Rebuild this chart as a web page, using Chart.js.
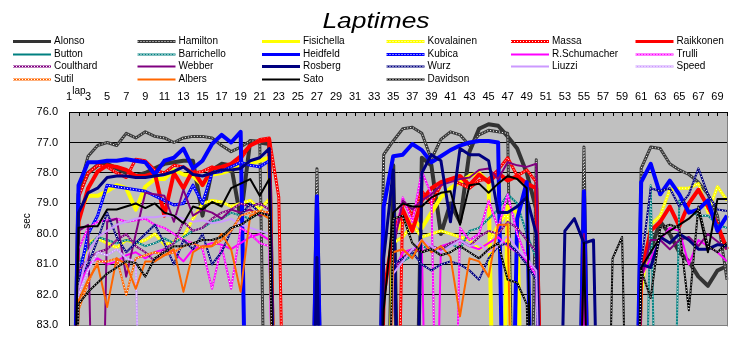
<!DOCTYPE html>
<html><head><meta charset="utf-8">
<script src="https://cdn.jsdelivr.net/npm/chart.js@4.4.1/dist/chart.umd.min.js"></script>
<style>html,body{margin:0;padding:0;background:#fff;overflow:hidden}canvas{display:block}</style>
</head><body>
<canvas id="c" width="752" height="343"></canvas>
<script>
// ---- categories / tick labels ----
const laps = [1,2,3,4,5,6,7,8,9,10,11,12,13,14,15,16,17,18,19,20,21,22,23,24,25,26,27,28,29,30,31,32,33,34,35,36,37,38,39,40,41,42,43,44,45,46,47,48,49,50,51,52,53,54,55,56,57,58,59,60,61,62,63,64,65,66,67,68,69,70];
const tickLaps = [1,3,5,7,9,11,13,15,17,19,21,23,25,27,29,31,33,35,37,39,41,43,45,47,49,51,53,55,57,59,61,63,65,67,69];
const yTicks = [76,77,78,79,80,81,82,83];

// ---- lap times (sec); values above 83 run off the bottom of the chart ----
const alonso = [95,78.7,78.0,77.75,77.7,77.85,78.0,78.1,78.0,77.85,
 77.7,77.65,77.6,77.6,79.4,77.9,77.7,77.75,79.5,76.95,
 77.0,77.05,95,95,95,95,95,95,95,95,
 95,95,95,95,77.75,95,95,77.5,77.75,80.0,
 79.0,79.6,77.3,76.55,76.4,76.45,76.8,77.2,78.0,79.2,
 95,95,95,95,95,95,95,95,95,95,
 81.2,80.5,79.6,80.0,80.6,80.9,81.4,81.7,81.2,81.05];
const hamilton = [95,78.6,77.45,77.1,77.0,77.1,76.7,76.85,76.65,76.8,
 76.85,77.0,76.85,76.8,76.8,76.85,77.1,77.3,77.15,76.95,
 76.95,95,95,95,95,95,77.86,95,95,95,
 95,95,95,77.4,76.95,76.55,76.5,76.7,77.55,76.9,
 76.65,76.75,77.1,76.75,76.6,76.65,76.7,95,95,77.57,
 95,95,95,95,77.15,95,95,95,95,95,
 77.85,77.15,77.2,77.7,77.9,78.05,78.3,78.7,79.4,81.5];
const fisichella = [95,79.3,78.75,78.75,78.6,78.4,78.5,79.2,78.45,78.2,
 78.2,77.9,78.05,78.1,78.4,78.05,78.0,77.9,77.7,77.7,
 77.6,77.5,95,95,95,95,95,95,95,95,
 95,95,95,95,80.0,79.6,79.5,79.8,79.3,78.8,
 78.5,78.3,78.1,78.0,78.3,95,79.1,79.3,95,null,
 null,null,null,null,null,null,null,null,null,null,
 null,null,null,null,null,null,null,null,null,null];
const kovalainen = [95,81.5,80.3,80.15,80.3,80.45,80.2,80.3,80.2,80.0,
 80.35,80.25,80.1,79.5,79.0,78.9,78.95,79.1,79.0,78.9,
 79.2,78.85,95,95,95,95,95,95,95,95,
 95,95,95,95,80.3,80.1,79.7,80.1,80.0,79.9,
 80.0,80.1,80.2,80.5,80.3,79.7,79.3,95,95,95,
 95,95,95,95,82.0,95,95,95,95,95,
 82.0,79.7,79.4,78.55,78.5,78.5,78.35,79.3,78.45,78.9];
const massa = [95,78.8,78.0,77.75,77.8,78.0,78.15,77.55,77.6,77.9,
 78.0,77.75,77.8,78.0,77.95,77.8,77.9,77.75,77.55,77.1,
 76.9,76.85,78.8,95,95,95,95,95,95,95,
 95,95,95,95,95,78.9,79.4,78.6,79.0,78.4,
 78.2,78.35,78.5,78.25,78.2,77.9,77.5,78.1,77.9,78.3,
 95,null,null,null,null,null,null,null,null,null,
 null,null,null,null,null,null,null,null,null,null];
const raikkonen = [95,79.6,78.5,77.95,77.75,77.8,77.9,78.1,78.1,78.0,
 79.4,78.0,78.5,77.9,78.4,77.85,77.8,77.7,77.45,77.1,
 76.95,76.9,95,95,95,95,95,95,95,95,
 95,95,95,82.0,80.0,79.2,79.9,78.9,78.5,78.3,
 78.2,78.1,78.4,78.05,78.3,78.0,78.25,78.1,78.35,78.5,
 95,95,95,95,95,95,95,95,95,95,
 81.3,79.9,79.6,79.1,79.75,79.0,78.55,79.1,79.7,80.5];
const button = [95,null,null,null,null,null,null,null,null,null,
 null,null,null,null,null,null,null,null,null,null,
 null,null,null,null,null,null,null,null,null,null,
 null,null,null,null,null,null,null,null,null,null,
 null,null,null,null,null,null,null,null,null,null,
 null,null,null,null,null,null,null,null,null,null,
 null,null,null,null,null,null,null,null,null,null];
const barrichello = [95,81.0,80.4,80.1,80.2,80.3,80.2,80.25,80.4,80.3,
 80.15,80.3,80.1,79.9,79.8,79.6,79.5,79.3,79.4,79.5,
 79.3,79.4,95,95,95,95,95,95,95,95,
 95,95,95,95,81.0,80.9,80.7,80.4,80.5,80.6,
 80.3,80.5,79.9,79.8,79.5,79.2,78.7,79.0,80.0,80.8,
 95,95,95,95,95,95,95,95,95,95,
 95,78.4,95,95,78.9,79.2,79.4,79.4,79.7,79.8];
const heidfeld = [95,78.4,77.65,77.65,77.6,77.6,77.55,77.6,77.65,78.05,
 77.6,77.5,77.2,77.85,77.6,77.05,76.75,77.0,76.65,95,
 95,95,95,95,95,95,78.76,95,95,95,
 95,95,95,79.1,77.45,77.4,77.05,77.25,77.65,77.45,
 77.25,77.1,77.0,76.95,76.95,77.0,95,79.5,78.3,95,
 95,95,95,95,78.6,95,95,95,95,95,
 78.3,77.7,78.7,78.25,78.7,79.3,79.2,78.9,79.9,79.4];
const kubica = [95,81.5,80.0,79.4,78.4,78.45,78.5,78.55,78.6,78.75,
 78.9,79.05,79.0,78.4,79.0,78.0,77.95,77.8,77.65,77.75,
 77.8,77.6,95,95,95,95,95,null,null,null,
 null,null,null,null,null,null,null,null,null,null,
 null,null,null,null,null,null,null,null,null,null,
 null,null,null,null,null,null,null,null,null,null,
 null,null,null,null,null,null,null,null,null,null];
const rschumacher = [95,81.8,81.0,80.8,81.0,80.9,80.7,80.6,80.8,80.6,
 80.5,80.6,80.9,80.5,80.4,80.3,80.35,80.5,80.3,80.1,
 80.0,80.2,95,95,95,95,95,95,95,95,
 95,95,95,95,81.3,80.6,80.5,80.4,95,80.4,
 80.3,80.2,80.4,80.5,80.3,80.1,80.4,80.6,80.9,81.4,
 95,95,95,95,81.6,95,95,95,95,95,
 81.4,80.8,80.2,79.8,79.9,81.0,80.2,80.4,80.6,80.9];
const trulli = [95,80.5,79.8,79.6,79.55,79.5,79.6,79.55,79.5,79.7,
 79.8,80.0,80.2,80.3,80.5,81.8,80.4,81.8,79.8,80.0,
 80.3,80.4,95,95,95,95,95,95,95,95,
 95,95,95,95,80.4,78.8,79.6,77.95,78.7,95,
 95,79.8,80.2,80.0,78.9,79.8,78.7,80.0,80.8,81.4,
 95,95,95,95,95,null,null,null,null,null,
 null,null,null,null,null,null,null,null,null,null];
const coulthard = [95,81.2,80.8,80.6,80.5,80.2,80.0,80.4,80.6,80.9,
 80.5,80.3,79.6,79.9,79.8,79.5,79.3,79.2,79.0,79.1,
 79.0,79.2,95,95,95,95,95,95,95,95,
 95,95,95,95,81.2,80.8,80.5,80.6,80.4,80.5,
 80.3,80.2,80.4,80.1,79.9,80.0,79.6,79.8,80.2,80.6,
 95,95,95,95,80.1,null,null,null,null,null,
 null,null,null,null,null,null,null,null,null,null];
const webber = [95,79.9,79.7,95,79.6,79.5,81.4,80.0,78.65,78.7,
 78.75,79.6,78.55,79.4,79.2,79.3,79.5,79.2,79.3,79.2,
 79.4,79.3,95,95,95,95,95,95,95,95,
 95,95,95,95,80.5,78.9,79.2,78.9,78.7,78.4,
 78.3,78.2,78.15,77.9,77.85,78.2,77.65,77.75,77.8,77.7,
 95,95,95,95,80.0,95,95,95,95,95,
 81.5,80.2,80.2,80.5,80.2,80.1,80.4,80.0,80.25,80.5];
const rosberg = [95,79.3,78.65,78.5,78.15,78.1,78.1,78.15,78.15,78.1,
 78.05,77.95,77.8,78.05,78.1,78.0,77.9,77.9,77.85,77.6,
 77.5,77.2,95,95,95,95,80.77,95,95,95,
 95,95,95,80.8,77.9,95,95,78.0,77.4,77.6,
 79.6,77.2,77.4,77.4,77.6,79.3,79.3,79.1,78.8,80.0,
 95,95,79.9,79.5,80.3,80.2,95,95,95,95,
 81.0,81.1,80.1,80.3,80.0,80.2,80.5,80.5,80.35,80.4];
const wurz = [95,81.5,81.0,80.2,79.3,80.1,80.6,80.3,80.0,79.7,
 80.3,81.0,80.2,80.5,80.0,81.0,80.6,79.9,79.4,79.0,
 79.3,79.4,95,95,95,95,95,95,95,95,
 95,95,95,95,81.0,80.8,80.6,81.0,81.2,81.0,
 80.9,81.0,81.2,81.5,80.8,80.4,80.3,80.6,81.0,81.5,
 95,95,95,95,95,95,95,95,95,95,
 81.0,78.5,78.6,78.5,79.1,78.7,77.85,78.7,79.2,79.25];
const liuzzi = [95,81.8,80.6,80.1,79.9,79.7,79.6,79.5,79.45,79.45,
 79.4,79.4,79.5,79.6,79.55,79.65,79.6,79.5,79.7,79.8,
 79.9,80.0,95,95,95,95,95,95,95,95,
 95,95,95,95,81.3,80.9,80.5,80.2,80.4,80.6,
 80.4,80.2,80.4,80.3,80.6,80.4,80.05,80.5,80.8,81.2,
 95,95,95,95,95,null,null,null,null,null,
 null,null,null,null,null,null,null,null,null,null];
const speed = [95,82.0,81.2,80.6,80.7,80.5,80.8,80.9,95,null,
 null,null,null,null,null,null,null,null,null,null,
 null,null,null,null,null,null,null,null,null,null,
 null,null,null,null,null,null,null,null,null,null,
 null,null,null,null,null,null,null,null,null,null,
 null,null,null,null,null,null,null,null,null,null,
 null,null,null,null,null,null,null,null,null,null];
const sutil = [95,82.5,81.6,80.9,80.9,80.8,82.0,80.8,80.7,80.6,
 80.7,80.6,80.4,80.3,80.45,80.4,80.2,79.9,79.4,79.3,
 79.25,79.3,95,null,null,null,null,null,null,null,
 null,null,null,null,null,null,null,null,null,null,
 null,null,null,null,null,null,null,null,null,null,
 null,null,null,null,null,null,null,null,null,null,
 null,null,null,null,null,null,null,null,null,null];
const albers = [95,82.2,81.5,81.0,82.4,80.8,81.0,81.8,80.9,80.9,
 80.7,80.5,81.9,80.6,80.4,80.4,80.0,80.5,81.9,79.4,
 79.3,79.5,95,95,95,95,95,95,95,95,
 95,95,95,95,80.6,80.5,80.8,80.2,80.6,80.4,
 80.75,82.7,80.8,80.9,81.4,79.7,79.7,95,null,null,
 null,null,null,null,null,null,null,null,null,null,
 null,null,null,null,null,null,null,null,null,null];
const sato = [95,79.8,79.75,79.75,79.2,79.2,79.1,79.0,79.15,79.0,
 79.3,79.4,79.65,79.1,79.2,78.95,79.1,78.5,78.35,78.2,
 78.75,78.2,95,95,95,95,95,95,95,95,
 95,95,95,82.5,79.3,79.0,79.1,79.1,78.8,78.65,
 78.6,79.7,78.4,78.35,78.65,78.35,78.1,78.2,78.5,95,
 95,95,95,95,80.3,95,95,95,95,95,
 81.1,80.6,80.1,79.9,79.7,79.5,79.2,80.6,78.85,78.85];
const davidson = [95,82.3,81.9,81.6,81.3,81.1,80.9,80.95,81.4,80.8,
 80.6,80.4,80.4,80.3,80.2,80.2,80.1,79.8,79.7,79.5,
 79.3,79.4,95,95,95,95,95,95,95,95,
 95,95,95,95,79.5,79.4,80.3,80.6,80.5,80.7,
 80.6,80.4,80.6,80.8,80.5,80.3,81.5,81.6,82.3,95,
 95,95,95,95,95,95,95,80.8,80.1,95,
 81.2,82.1,79.8,79.7,79.8,82.5,79.1,80.4,80.6,80.3];

// ---- series names and styles ----
const names = ['Alonso','Hamilton','Fisichella','Kovalainen','Massa','Raikkonen',
 'Button','Barrichello','Heidfeld','Kubica','R.Schumacher','Trulli',
 'Coulthard','Webber','Rosberg','Wurz','Liuzzi','Speed',
 'Sutil','Albers','Sato','Davidson'];
const series = [alonso,hamilton,fisichella,kovalainen,massa,raikkonen,
 button,barrichello,heidfeld,kubica,rschumacher,trulli,
 coulthard,webber,rosberg,wurz,liuzzi,speed,
 sutil,albers,sato,davidson];
const colors = ['#333333','#3a3a3a','#ffff00','#ffff00','#ff0000','#ff0000',
 '#008080','#008080','#0000ff','#0000ff','#ff00ff','#ff00ff',
 '#800080','#800080','#000080','#000080','#cc99ff','#cc99ff',
 '#ff6600','#ff6600','#000000','#000000'];
const widths = [4,3,4,3,3,4, 2,2,4,3,2,2, 2,2,3,2,2,2, 2,2,2,2];
const dotted = [false,true,false,true,true,false, false,true,false,true,false,true,
 true,false,false,true,false,true, true,false,false,true];

const FONT = '"Liberation Sans", Arial, sans-serif';

const datasets = series.map((d, i) => ({
  label: names[i], data: d, borderColor: colors[i], backgroundColor: colors[i],
  borderWidth: widths[i], pointRadius: 0, tension: 0, spanGaps: false, fill: false,
  dotted: dotted[i], order: series.length - 1 - i
}));

function strokeDots(ctx, pts) {
  ctx.save();
  ctx.strokeStyle = '#ffffff'; ctx.lineWidth = 1; ctx.setLineDash([1, 2]);
  ctx.beginPath();
  let started = false;
  for (const p of pts) {
    if (!p) { started = false; continue; }
    if (!started) { ctx.moveTo(p.x, p.y); started = true; } else ctx.lineTo(p.x, p.y);
  }
  ctx.stroke();
  ctx.restore();
}

const deco = {
  id: 'deco',
  beforeDraw(chart) {
    const {ctx, chartArea: a} = chart;
    ctx.save();
    ctx.fillStyle = '#c0c0c0';
    ctx.fillRect(a.left, a.top, a.right - a.left, a.bottom - a.top);
    ctx.restore();
  },
  afterDatasetDraw(chart, args) {
    const ds = chart.data.datasets[args.index];
    if (!ds.dotted) return;
    const {ctx, chartArea: a} = chart;
    ctx.save();
    ctx.beginPath(); ctx.rect(a.left, a.top, a.right - a.left, a.bottom - a.top); ctx.clip();
    const pts = args.meta.data.map((el, j) => ds.data[j] == null ? null : {x: el.x, y: el.y});
    strokeDots(ctx, pts);
    ctx.restore();
  },
  afterDraw(chart) {
    const {ctx, chartArea: a, scales} = chart;
    ctx.save();
    // right border
    ctx.strokeStyle = '#808080'; ctx.lineWidth = 1;
    ctx.beginPath(); ctx.moveTo(Math.round(a.right) + 0.5, a.top); ctx.lineTo(Math.round(a.right) + 0.5, a.bottom + 1); ctx.stroke();
    // inward tick marks on the top axis
    ctx.strokeStyle = '#000';
    ctx.beginPath();
    laps.forEach((l, i) => {
      const x = Math.round(scales.x.getPixelForValue(i)) + 0.5;
      ctx.moveTo(x, a.top); ctx.lineTo(x, a.top + 4);
    });
    ctx.stroke();
    // title (slightly widened like the original face)
    ctx.fillStyle = '#000';
    ctx.save();
    ctx.translate(376, 22); ctx.scale(1.2, 1);
    ctx.font = 'italic 22px ' + FONT;
    ctx.textAlign = 'center'; ctx.textBaseline = 'middle';
    ctx.fillText('Laptimes', 0, 0);
    ctx.restore();
    // axis titles
    ctx.textAlign = 'center'; ctx.textBaseline = 'middle';
    ctx.font = '10px ' + FONT;
    ctx.fillText('lap', 79, 91);
    ctx.save();
    ctx.translate(27, 221); ctx.rotate(-Math.PI / 2);
    ctx.fillText('sec', 0, 0);
    ctx.restore();
    // legend
    ctx.textAlign = 'left';
    names.forEach((n, i) => {
      const col = i % 6, row = Math.floor(i / 6);
      const x0 = 13 + col * 124.5, y = Math.round(41 + row * 12.6) + 0.5;
      ctx.strokeStyle = colors[i];
      ctx.lineWidth = Math.min(widths[i], 3);
      ctx.setLineDash([]);
      ctx.beginPath(); ctx.moveTo(x0, y); ctx.lineTo(x0 + 38, y); ctx.stroke();
      if (dotted[i]) strokeDots(ctx, [{x: x0, y}, {x: x0 + 38, y}]);
      ctx.fillStyle = '#000';
      ctx.font = '10px ' + FONT;
      ctx.textBaseline = 'middle';
      ctx.fillText(n, x0 + 41, y);
    });
    ctx.restore();
  }
};

new Chart(document.getElementById('c'), {
  type: 'line',
  data: { labels: laps, datasets },
  options: {
    responsive: false, animation: false, devicePixelRatio: 1,
    layout: { padding: { top: 88, right: 25, bottom: 14, left: 0 } },
    plugins: { legend: { display: false }, title: { display: false }, tooltip: { enabled: false } },
    elements: { point: { radius: 0 }, line: { borderJoinStyle: 'round', borderCapStyle: 'butt' } },
    scales: {
      x: {
        type: 'category', position: 'top', offset: false,
        grid: { display: false, drawTicks: false },
        border: { display: true, color: '#000', width: 1 },
        ticks: {
          autoSkip: false, maxRotation: 0, minRotation: 0, padding: 8, color: '#000',
          font: { family: FONT, size: 11 },
          callback: (v, i) => tickLaps.includes(laps[i]) ? String(laps[i]) : ''
        },
        afterFit: s => { s.height = 24; }
      },
      y: {
        min: yTicks[0], max: yTicks[yTicks.length - 1], reverse: true,
        afterBuildTicks: s => { s.ticks = yTicks.map(v => ({ value: v })); },
        ticks: { padding: 11, color: '#000', font: { family: FONT, size: 11 },
                 callback: v => Number(v).toFixed(1) },
        grid: { drawTicks: false, lineWidth: 1,
                color: c => (c.tick && c.tick.value === 83) ? '#808080' : '#000000' },
        border: { display: true, color: '#000', width: 1 },
        afterFit: s => { s.width = 69; }
      }
    }
  },
  plugins: [deco]
});
</script>
</body></html>
